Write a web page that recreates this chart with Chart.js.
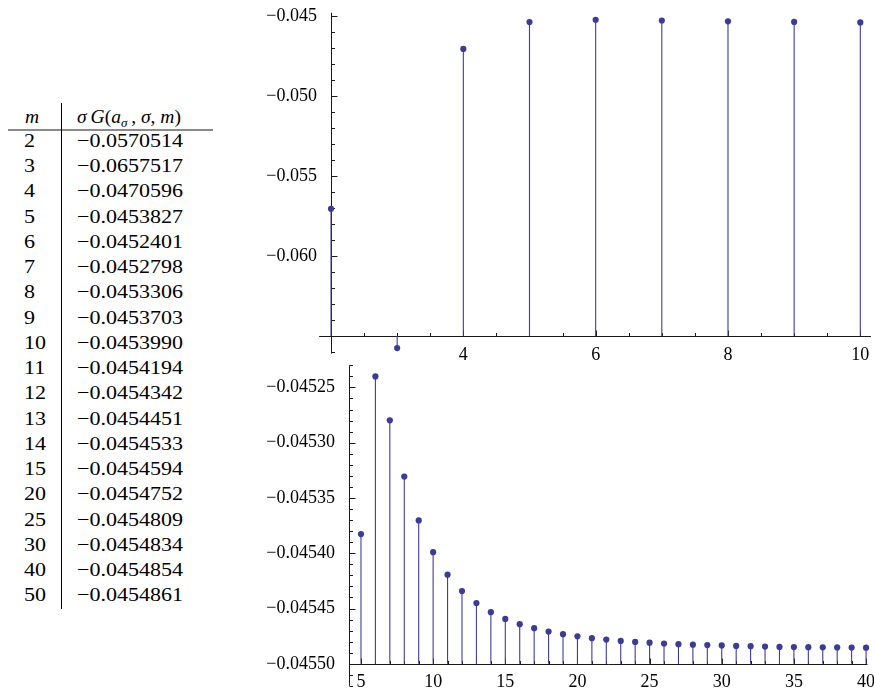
<!DOCTYPE html>
<html><head><meta charset="utf-8">
<script src="https://cdn.jsdelivr.net/npm/chart.js@4/dist/chart.umd.min.js"></script>
<style>
html,body{margin:0;padding:0;background:#fff;width:874px;height:689px;overflow:hidden;}
#wrap{position:relative;width:874px;height:689px;}
canvas{position:absolute;left:0;}
#c1{top:0;}
#c2{top:360px;}
.cell{position:absolute;font-family:'Liberation Serif','Times New Roman',serif;font-size:19.5px;color:#000;white-space:nowrap;transform-origin:0 0;transform:scaleX(1.13);line-height:21px;}
.cell.head{transform:none;}
.rule{position:absolute;}
</style></head><body>
<div id="wrap">
<div id="table"></div>
<canvas id="c1" width="874" height="364"></canvas>
<canvas id="c2" width="874" height="329"></canvas>
</div>
<script>
// ---------------- data ----------------
const tableM = [2,3,4,5,6,7,8,9,10,11,12,13,14,15,20,25,30,40,50];
const tableG = [-0.0570514,-0.0657517,-0.0470596,-0.0453827,-0.0452401,-0.0452798,-0.0453306,-0.0453703,-0.0453990,-0.0454194,-0.0454342,-0.0454451,-0.0454533,-0.0454594,-0.0454752,-0.0454809,-0.0454834,-0.0454854,-0.0454861];

const topM = [2,3,4,5,6,7,8,9,10];
const topG = [-0.0570514,-0.0657517,-0.0470596,-0.0453827,-0.0452401,-0.0452798,-0.0453306,-0.0453703,-0.0453990];

const bottomM = [5,6,7,8,9,10,11,12,13,14,15,16,17,18,19,20,21,22,23,24,25,26,27,28,29,30,31,32,33,34,35,36,37,38,39,40];
const bottomG = [-0.0453827,-0.0452401,-0.0452798,-0.0453306,-0.0453703,-0.0453990,-0.0454194,-0.0454342,-0.0454451,-0.0454533,
                 -0.0454594,-0.0454642,-0.0454678,-0.0454709,-0.0454732,-0.0454752,-0.0454768,-0.0454781,-0.0454793,-0.0454802,
                 -0.0454809,-0.0454817,-0.0454823,-0.0454827,-0.0454831,-0.0454834,-0.0454838,-0.0454841,-0.0454844,-0.0454847,
                 -0.0454849,-0.0454850,-0.0454851,-0.0454852,-0.0454853,-0.0454854];

const topXTicks = [4,6,8,10];
const topYTicks = [-0.045,-0.050,-0.055,-0.060];
const bottomXTicks = [5,10,15,20,25,30,35,40];
const bottomYTicks = [-0.04525,-0.04530,-0.04535,-0.04540,-0.04545,-0.04550];

// ---------------- styles ----------------
const POINT = '#3b3b98';
const STEM = '#3d3d99';
const FONT = "'Liberation Serif','Times New Roman',serif";

function fmtNeg(v, d){ return (v < 0 ? '\u2212' : '') + Math.abs(v).toFixed(d); }

// ---------------- table ----------------
(function(){
  const tbl = document.getElementById('table');
  function cell(html, x, baseline, cls){
    const d = document.createElement('div');
    d.className = 'cell' + (cls ? ' ' + cls : '');
    d.innerHTML = html;
    d.style.left = x + 'px';
    d.style.top = (baseline - 17.4) + 'px';
    tbl.appendChild(d);
  }
  function rule(x, y, w, h, c){
    const d = document.createElement('div');
    d.className = 'rule';
    d.style.left = x+'px'; d.style.top = y+'px'; d.style.width = w+'px'; d.style.height = h+'px'; d.style.background = c;
    tbl.appendChild(d);
  }
  cell('<i>m</i>', 25, 123, 'head');
  cell('<i>σ</i>&#8201;<i>G</i>(<i>a</i><span style="font-size:13px;position:relative;top:4px"><i>σ</i></span>&#8201;, <i>σ</i>, <i>m</i>)', 77, 123, 'head');
  rule(8, 129, 205, 2, '#8a8a8a');
  rule(61, 103, 1, 506, '#000');
  const first = 147.3, step = 25.25;
  tableM.forEach((m, i) => {
    cell(String(m), 24, first + i*step);
    cell(fmtNeg(tableG[i], 7), 77, first + i*step);
  });
})();

// ---------------- axes plugin (Mathematica-style crossing axes, inward ticks) ----------------
function axesPlugin(cfg){
  return {
    id: 'mmaAxes',
    beforeDatasetsDraw(chart){
      const ctx = chart.ctx, xs = chart.scales.x, ys = chart.scales.y;
      const x0 = Math.round(xs.getPixelForValue(cfg.originX)) + 0.5;
      const y0 = Math.round(ys.getPixelForValue(cfg.originY)) + 0.5;
      ctx.save();
      ctx.strokeStyle = '#1a1a1a';
      ctx.lineWidth = 1;
      ctx.beginPath();
      ctx.moveTo(xs.getPixelForValue(cfg.xFrom), y0);
      ctx.lineTo(xs.getPixelForValue(cfg.xTo), y0);
      ctx.moveTo(x0, ys.getPixelForValue(cfg.yFrom));
      ctx.lineTo(x0, ys.getPixelForValue(cfg.yTo));
      // x ticks (upwards)
      const xi0 = Math.ceil(cfg.xTickFrom/cfg.xMinor - 1e-6), xi1 = Math.floor(cfg.xTo/cfg.xMinor + 1e-6);
      for (let i = xi0; i <= xi1; i++){
        const v = i*cfg.xMinor;
        const r = v/cfg.xMajor, major = Math.abs(r - Math.round(r)) < 1e-6;
        const px = Math.round(xs.getPixelForValue(v)) + 0.5;
        ctx.moveTo(px, y0);
        ctx.lineTo(px, y0 - (major ? 6 : 3.5));
      }
      // y ticks (rightwards)
      const yi0 = Math.ceil(cfg.yFrom/cfg.yMinor - 1e-6), yi1 = Math.floor(cfg.yTo/cfg.yMinor + 1e-6);
      for (let i = yi0; i <= yi1; i++){
        const v = i*cfg.yMinor;
        const r = v/cfg.yMajor, major = Math.abs(r - Math.round(r)) < 1e-6;
        const py = Math.round(ys.getPixelForValue(v)) + 0.5;
        ctx.moveTo(x0, py);
        ctx.lineTo(x0 + (major ? 6 : 3.5), py);
      }
      ctx.stroke();
      ctx.restore();
    }
  };
}

function makeChart(canvasId, ms, gs, o){
  const stems = ms.map((m, i) => ({x: m, y: gs[i]}));
  return new Chart(document.getElementById(canvasId), {
    type: 'scatter',
    data: {
      datasets: [
        { type: 'bar', data: stems, base: o.originY, backgroundColor: STEM, borderWidth: 0,
          barThickness: 1.1, inflateAmount: 0, grouped: false, clip: false, order: 2 },
        { type: 'scatter', data: stems, pointRadius: 3.1, pointBackgroundColor: POINT,
          pointBorderWidth: 0, pointHoverRadius: 3.1, clip: false, order: 1 }
      ]
    },
    options: {
      responsive: false, animation: false, devicePixelRatio: 1,
      layout: { padding: o.padding },
      plugins: { legend: {display:false}, tooltip: {enabled:false} },
      events: [],
      scales: {
        x: {
          type: 'linear', min: o.xMin, max: o.xMax, offset: false,
          position: {y: o.originY},
          grid: {display:false}, border: {display:false},
          afterBuildTicks: s => { s.ticks = o.xTicks.map(v => ({value: v})); },
          afterFit: s => { s.height = 0; s.paddingLeft = 0; s.paddingRight = 0; },
          ticks: { padding: 0, color: '#000', font: {family: FONT, size: 18}, maxRotation: 0, autoSkip: false,
                   callback: v => String(v) }
        },
        y: {
          type: 'linear', min: o.yMin, max: o.yMax, position: 'left',
          grid: {display:false}, border: {display:false},
          afterBuildTicks: s => { s.ticks = o.yTicks.map(v => ({value: v})); },
          afterFit: s => { s.width = o.yAxisWidth; s.paddingTop = 0; s.paddingBottom = 0; },
          ticks: { padding: 6, color: '#000', font: {family: FONT, size: 18}, autoSkip: false,
                   callback: v => fmtNeg(v, o.yDigits) }
        }
      }
    },
    plugins: [axesPlugin(o.axes)]
  });
}

// top chart (y from -0.0661 to -0.0448, axes cross at (2, -0.065))
makeChart('c1', topM, topG, {
  xMin: 2, xMax: 10.16, yMin: -0.0661, yMax: -0.0448, originY: -0.065,
  xTicks: topXTicks, yTicks: topYTicks, yDigits: 3,
  yAxisWidth: 331,
  padding: {left: 0, right: 1.4, top: 12.8, bottom: 10.4},
  axes: {originX: 2, originY: -0.065, xFrom: 1.82, xTickFrom: 2, xTo: 10.16, yFrom: -0.0661, yTo: -0.0448,
         xMinor: 0.5, xMajor: 2, yMinor: 0.001, yMajor: 0.005}
});

// bottom chart (y from -0.04552 to -0.04523, axes cross at (4.17, -0.0455))
makeChart('c2', bottomM, bottomG, {
  xMin: 4.17, xMax: 40.1, yMin: -0.04552, yMax: -0.04523, originY: -0.0455,
  xTicks: bottomXTicks, yTicks: bottomYTicks, yDigits: 5,
  yAxisWidth: 349,
  padding: {left: 0, right: 6.5, top: 5.3, bottom: 1.8},
  axes: {originX: 4.17, originY: -0.0455, xFrom: 4.17, xTickFrom: 4.17, xTo: 40.1, yFrom: -0.04552, yTo: -0.04523,
         xMinor: 1, xMajor: 5, yMinor: 0.00001, yMajor: 0.00005}
});
</script>
</body></html>
